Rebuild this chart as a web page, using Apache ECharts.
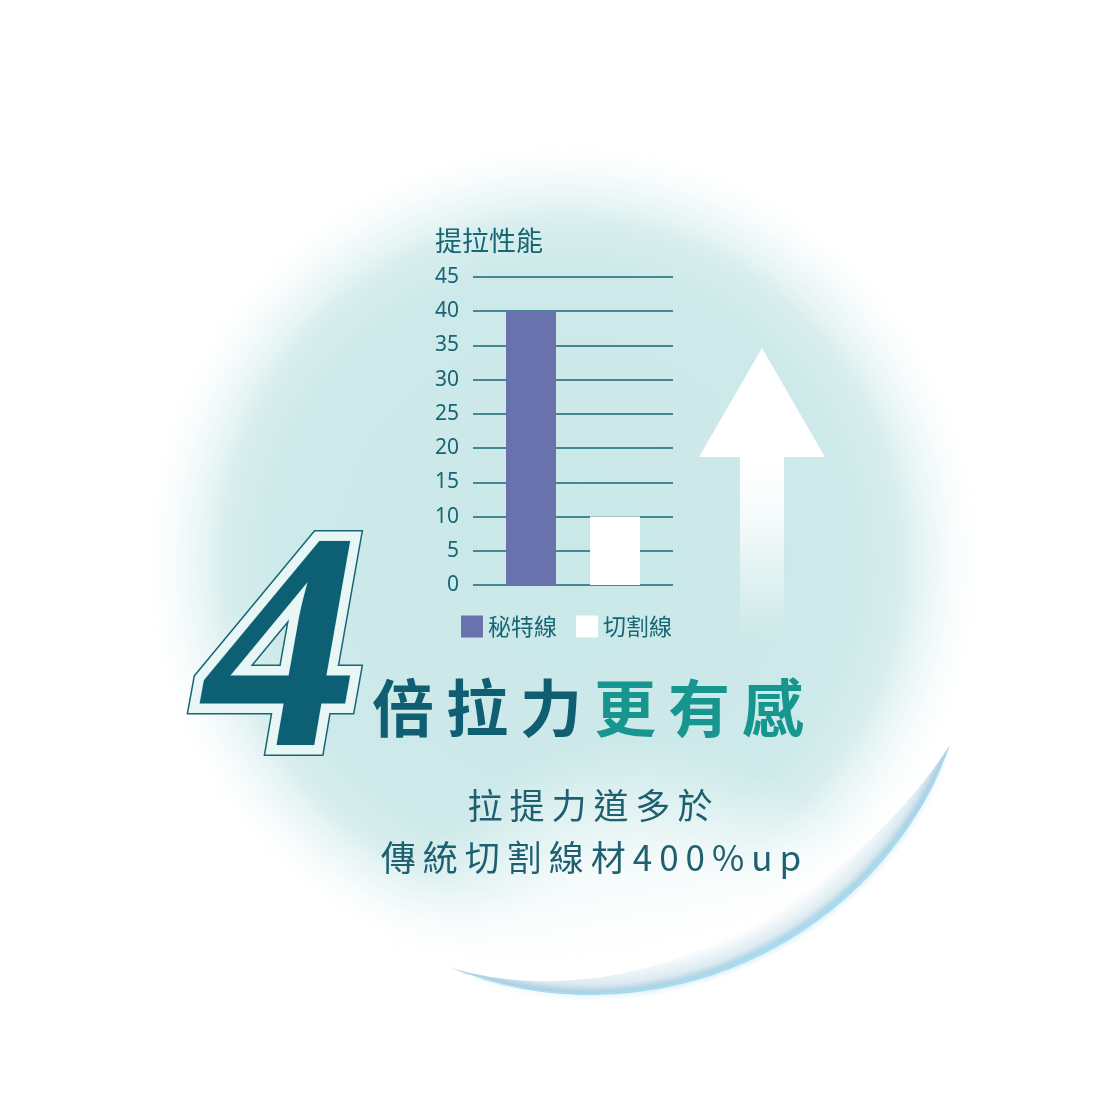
<!DOCTYPE html>
<html lang="zh-Hant">
<head>
    <meta charset="UTF-8">
    <title>提拉性能</title>
    <style>
        html, body { margin: 0; padding: 0; background: #ffffff; }
        #main { width: 1118px; height: 1118px; }
    </style>
</head>
<body>
<div id="main"></div>

<script src="https://cdn.jsdelivr.net/npm/echarts@6/dist/echarts.min.js"></script>
<script>
    // 數據
    const categories = ['提拉性能'];
    const seriesNames = ['秘特線', '切割線'];
    const seriesValues = [40, 10];
    const seriesColors = ['#6a72ad', '#ffffff'];
    const yTicks = [0, 5, 10, 15, 20, 25, 30, 35, 40, 45];

    const headA = ['倍', '拉', '力'];
    const headB = ['更', '有', '感'];
    const subLine1 = '拉提力道多於';
    const subLine2 = '傳統切割線材400%up';

    const CJK = '"Noto Sans CJK TC", "Noto Sans CJK SC", sans-serif';
    const teal = '#176675';

    const measureCtx = document.createElement('canvas').getContext('2d');

    // 逐字排版（加字距）
    function spacedText(str, cx, y, size, spacing, color, weight) {
        const font = (weight || 'normal') + ' ' + size + 'px ' + CJK;
        measureCtx.font = font;
        const widths = str.split('').map(ch => measureCtx.measureText(ch).width);
        const total = widths.reduce((a, b) => a + b, 0) + spacing * (str.length - 1);
        let x = cx - total / 2;
        const out = [];
        str.split('').forEach((ch, i) => {
            out.push({
                type: 'text', x: x, y: y, z: 20, silent: true,
                style: { text: ch, font: font, fill: color, textBaseline: 'middle' }
            });
            x += widths[i] + spacing;
        });
        return out;
    }

    // 月牙形弧光的外形
    function crescent(cx, cy, r, a0, a1, maxT, skew) {
        const outer = [], inner = [];
        const n = 90;
        for (let i = 0; i <= n; i++) {
            const f = i / n;
            const a = a0 + (a1 - a0) * f;
            const t = maxT * Math.pow(Math.sin(Math.PI * Math.pow(f, skew)), 1.2);
            outer.push([cx + r * Math.cos(a), cy + r * Math.sin(a)]);
            inner.push([cx + (r - t) * Math.cos(a), cy + (r - t) * Math.sin(a)]);
        }
        return outer.concat(inner.reverse());
    }

    const arcC = { x: 590, y: 609, r: 385 };
    const graphics = [];

    // 背景圓
    graphics.push({
        type: 'circle', z: -10, silent: true,
        shape: { cx: 563, cy: 560, r: 425 },
        style: {
            fill: {
                type: 'radial', x: 0.5, y: 0.5, r: 0.5,
                colorStops: [
                    { offset: 0, color: '#cbe8e8' },
                    { offset: 0.68, color: '#cde9e9' },
                    { offset: 0.8, color: '#d9eeee' },
                    { offset: 0.9, color: 'rgba(236,247,247,0.6)' },
                    { offset: 1, color: 'rgba(255,255,255,0)' }
                ]
            }
        }
    });

    // 弧內白色霧面
    graphics.push({
        type: 'circle', z: -8, silent: true,
        shape: { cx: 640, cy: 1000, r: 260 },
        style: {
            fill: {
                type: 'radial', x: 0.5, y: 0.5, r: 0.5,
                colorStops: [
                    { offset: 0, color: 'rgba(255,255,255,1)' },
                    { offset: 0.55, color: 'rgba(255,255,255,0.75)' },
                    { offset: 1, color: 'rgba(255,255,255,0)' }
                ]
            }
        }
    });

    // 右下藍色弧光：內側陰影
    graphics.push({
        type: 'polygon', z: -5, silent: true,
        shape: { points: crescent(arcC.x, arcC.y, arcC.r, 0.36, 1.95, 30, 0.8) },
        style: {
            fill: {
                type: 'radial', x: arcC.x, y: arcC.y, r: arcC.r, global: true,
                colorStops: [
                    { offset: (arcC.r - 30) / arcC.r, color: 'rgba(150,195,215,0)' },
                    { offset: (arcC.r - 10) / arcC.r, color: 'rgba(140,188,210,0.3)' },
                    { offset: (arcC.r - 3) / arcC.r, color: 'rgba(120,175,205,0.55)' },
                    { offset: 1, color: 'rgba(160,210,232,0.9)' }
                ]
            }
        }
    });
    // 亮邊
    graphics.push({
        type: 'polygon', z: -4, silent: true,
        shape: { points: crescent(arcC.x, arcC.y, arcC.r + 1, 0.38, 1.92, 4, 0.8) },
        style: { fill: '#a8dbef', shadowBlur: 6, shadowColor: 'rgba(160,215,240,0.9)' }
    });

    // 箭頭
    graphics.push({
        type: 'polygon', z: 1, silent: true,
        shape: { points: [[762, 348], [825, 457], [699, 457]] },
        style: { fill: '#ffffff' }
    });
    graphics.push({
        type: 'rect', z: 1, silent: true,
        shape: { x: 740, y: 456, width: 44, height: 180 },
        style: {
            fill: {
                type: 'linear', x: 0, y: 0, x2: 0, y2: 1,
                colorStops: [
                    { offset: 0, color: 'rgba(255,255,255,1)' },
                    { offset: 0.3, color: 'rgba(255,255,255,0.85)' },
                    { offset: 1, color: 'rgba(255,255,255,0)' }
                ]
            }
        }
    });

    // 大「4」
    const fourFont = 'italic bold 310px "Liberation Serif", "DejaVu Serif", serif';
    const fourX = 282, fourY = 510;
    graphics.push({
        type: 'text', x: fourX, y: fourY, z: 10, silent: true,
        style: { text: '4', font: fourFont, fill: teal, stroke: teal, lineWidth: 22,
                 lineJoin: 'round', textAlign: 'center', textBaseline: 'middle' }
    });
    graphics.push({
        type: 'text', x: fourX, y: fourY, z: 11, silent: true,
        style: { text: '4', font: fourFont, fill: '#e9f6f6', stroke: '#e9f6f6', lineWidth: 19,
                 lineJoin: 'round', textAlign: 'center', textBaseline: 'middle' }
    });
    graphics.push({
        type: 'text', x: fourX, y: fourY, z: 12, silent: true,
        style: { text: '4', font: fourFont, fill: '#0d5f73', stroke: '#d8eeee', lineWidth: 1.5,
                 textAlign: 'center', textBaseline: 'middle' }
    });

    // 標題「倍拉力更有感」
    let hx = 372;
    headA.concat(headB).forEach((ch, i) => {
        graphics.push({
            type: 'text', x: hx, y: 677, z: 20, silent: true,
            style: {
                text: ch, font: 'bold 62px ' + CJK,
                fill: i < 3 ? '#0f5e72' : '#17968f',
                textBaseline: 'middle',
                shadowBlur: 6, shadowColor: 'rgba(255,255,255,0.9)'
            }
        });
        hx += 74;
    });

    // 副標
    spacedText(subLine1, 590, 788, 35, 7, '#1e5f70').forEach(g => graphics.push(g));
    spacedText(subLine2, 591, 840, 35, 7, '#1e5f70').forEach(g => graphics.push(g));

    const option = {
        animation: false,
        title: {
            text: '提拉性能',
            left: 430, top: 222,
            textStyle: { fontFamily: CJK, fontSize: 27, fontWeight: 'normal', color: teal }
        },
        legend: {
            data: seriesNames,
            left: 461, top: 615,
            padding: 0,
            icon: 'rect',
            itemWidth: 22, itemHeight: 22, itemGap: 19,
            textStyle: { fontFamily: CJK, fontSize: 23, color: teal }
        },
        grid: { left: 473, right: 445, top: 277, bottom: 533 },
        xAxis: {
            type: 'category',
            data: categories,
            axisLine: { show: false },
            axisTick: { show: false },
            axisLabel: { show: false }
        },
        yAxis: {
            type: 'value',
            min: yTicks[0],
            max: yTicks[yTicks.length - 1],
            interval: 5,
            axisLine: { show: false },
            axisTick: { show: false },
            axisLabel: { fontFamily: '"Noto Sans", sans-serif', fontSize: 21, color: teal, margin: 14 },
            splitLine: { lineStyle: { color: teal, width: 1.5 } }
        },
        series: seriesNames.map((name, i) => ({
            name: name,
            type: 'bar',
            data: [seriesValues[i]],
            barWidth: 50,
            barGap: '68%',
            itemStyle: { color: seriesColors[i] }
        })),
        graphic: graphics
    };

    const myChart = echarts.init(document.getElementById('main'));
    myChart.setOption(option);
</script>
</body>
</html>
